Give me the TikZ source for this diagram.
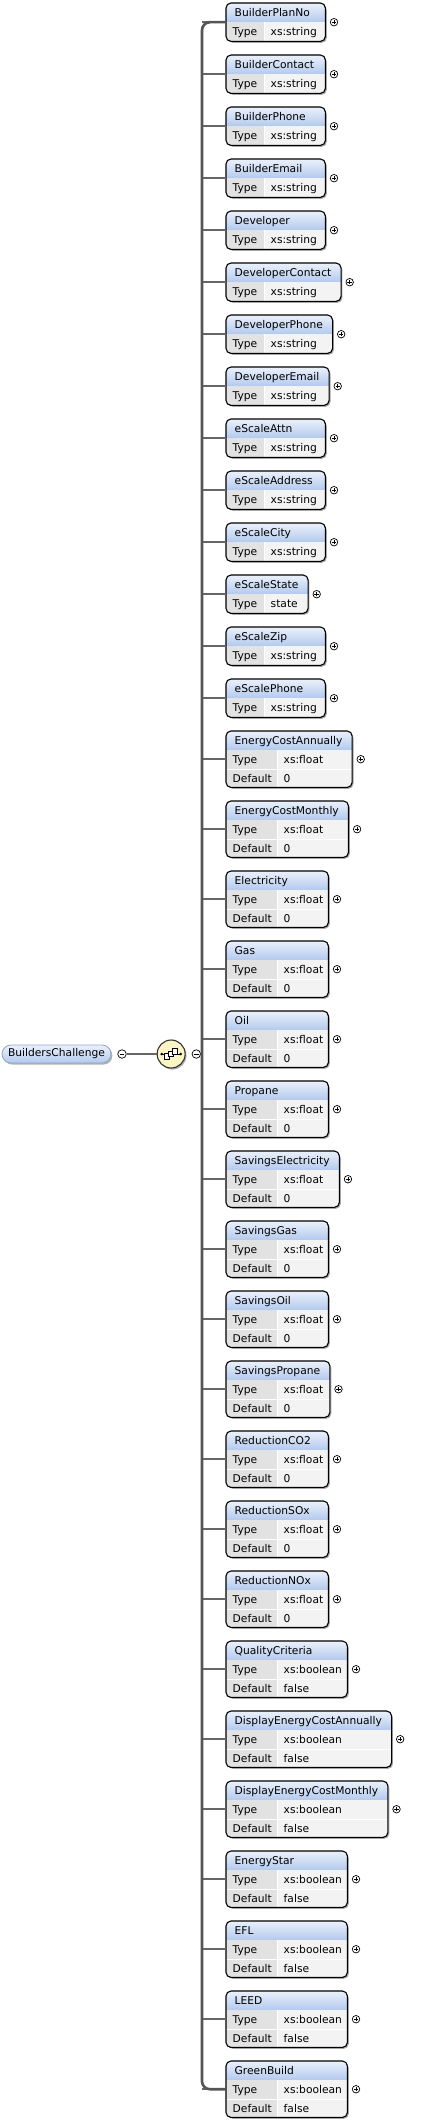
\documentclass[tikz,border=0pt]{standalone}
\usepackage{fontspec}
\setmainfont{DejaVu Sans}
\usepackage{xcolor}
\usetikzlibrary{positioning, shadows}

\definecolor{hdtop}{HTML}{EBF1FB}
\definecolor{hdbot}{HTML}{B3CAEE}
\definecolor{labcell}{HTML}{E2E2E2}
\definecolor{valcell}{HTML}{F3F3F3}
\definecolor{busgray}{HTML}{555555}
\definecolor{seqfill}{HTML}{FBF5C3}
\definecolor{rootline}{HTML}{8EA6C8}

\begin{document}
\begin{tikzpicture}[x=1pt, y=-1pt,
        font=\fontsize{10.7}{12}\selectfont,
        elframe/.style={rectangle, rounded corners=5pt, anchor=north west, inner xsep=9pt, fill=white, drop shadow={shadow xshift=1.6pt, shadow yshift=-1.6pt, opacity=.35, fill=black}},
        boxline/.style={draw=black, line width=1.1pt, rounded corners=5pt},
        headtext/.style={anchor=base west, inner sep=0pt, text=black},
        rowtext/.style={anchor=base west, inner sep=0pt, text=black},
        sepline/.style={draw=white, line width=1pt},
        plusc/.style={circle, draw=black, fill=white, line width=.7pt, minimum size=7.5pt, inner sep=0pt,
            path picture={\draw[line width=.6pt] ([xshift=-2.2pt]path picture bounding box.center) -- ([xshift=2.2pt]path picture bounding box.center)
                ([yshift=-2.2pt]path picture bounding box.center) -- ([yshift=2.2pt]path picture bounding box.center);}},
        minusc/.style={circle, draw=black, fill=white, line width=.7pt, minimum size=8.5pt, inner sep=0pt,
            path picture={\draw[line width=.6pt] ([xshift=-2.4pt]path picture bounding box.center) -- ([xshift=2.4pt]path picture bounding box.center);}},
        rootnode/.style={rectangle, rounded corners=9pt, minimum width=109pt, minimum height=18pt, inner sep=0pt, top color=hdtop, bottom color=hdbot, draw=rootline, line width=.8pt, drop shadow={shadow xshift=1.4pt, shadow yshift=-1.6pt, opacity=.3, fill=black}},
        seqnode/.style={circle, minimum size=28pt, inner sep=0pt, fill=seqfill, draw=black!80, line width=1.1pt, drop shadow={shadow xshift=1.4pt, shadow yshift=-1.6pt, opacity=.3, fill=black}},
        bus/.style={draw=busgray, line width=2.6pt},
        branch/.style={draw=busgray!90, line width=1.7pt}
    ]
        \useasboundingbox (0,0) rectangle (423,2122);

        % string elements (two rows)
        \foreach \nm/\ty/\mw [count=\k from 0] in {BuilderPlanNo/xs:string/99, BuilderContact/xs:string/99, BuilderPhone/xs:string/99, BuilderEmail/xs:string/99, Developer/xs:string/99, DeveloperContact/xs:string/99, DeveloperPhone/xs:string/99, DeveloperEmail/xs:string/99, eScaleAttn/xs:string/99, eScaleAddress/xs:string/99, eScaleCity/xs:string/99, eScaleState/state/77, eScaleZip/xs:string/99, eScalePhone/xs:string/99} {
            \node[elframe, minimum width=\mw pt, minimum height=38pt] (\nm) at (226,{3+52*\k}) {\phantom{\nm}};
            \begin{scope}
                \clip[rounded corners=5pt] (\nm.north west) rectangle (\nm.south east);
                \shade[top color=hdtop, bottom color=hdbot] (\nm.north west) rectangle ([yshift=-19pt]\nm.north east);
                \fill[labcell] ([yshift=-19pt]\nm.north west) rectangle ([xshift=38pt]\nm.south west);
                \fill[valcell] ([shift={(38pt,-19pt)}]\nm.north west) rectangle (\nm.south east);
                \draw[sepline] ([shift={(38pt,-19pt)}]\nm.north west) -- ([xshift=38pt]\nm.south west);
            \end{scope}
            \draw[boxline] (\nm.north west) rectangle (\nm.south east);
            \node[headtext] (\nm-h) at ([shift={(8.5pt,-13.8pt)}]\nm.north west) {\nm};
            \node[rowtext] (\nm-t) at ([shift={(6.5pt,-32.8pt)}]\nm.north west) {Type};
            \node[rowtext] (\nm-v) at ([shift={(44.5pt,-32.8pt)}]\nm.north west) {\ty};
            \node[plusc, right=4.5pt of \nm] (\nm-p) {};
            \draw[branch] (\nm.west) -- (\nm.west -| 202,0);
        }

        % elements with a default (three rows)
        \foreach \nm/\ty/\df/\mw [count=\k from 0] in {EnergyCostAnnually/xs:float/0/102, EnergyCostMonthly/xs:float/0/102, Electricity/xs:float/0/102, Gas/xs:float/0/102, Oil/xs:float/0/102, Propane/xs:float/0/102, SavingsElectricity/xs:float/0/102, SavingsGas/xs:float/0/102, SavingsOil/xs:float/0/102, SavingsPropane/xs:float/0/102, ReductionCO2/xs:float/0/102, ReductionSOx/xs:float/0/102, ReductionNOx/xs:float/0/102, QualityCriteria/xs:boolean/false/121, DisplayEnergyCostAnnually/xs:boolean/false/121, DisplayEnergyCostMonthly/xs:boolean/false/121, EnergyStar/xs:boolean/false/121, EFL/xs:boolean/false/121, LEED/xs:boolean/false/121, GreenBuild/xs:boolean/false/121} {
            \node[elframe, minimum width=\mw pt, minimum height=56pt] (\nm) at (226,{731+70*\k}) {\phantom{\nm}};
            \begin{scope}
                \clip[rounded corners=5pt] (\nm.north west) rectangle (\nm.south east);
                \shade[top color=hdtop, bottom color=hdbot] (\nm.north west) rectangle ([yshift=-19pt]\nm.north east);
                \fill[labcell] ([yshift=-19pt]\nm.north west) rectangle ([xshift=51pt]\nm.south west);
                \fill[valcell] ([shift={(51pt,-19pt)}]\nm.north west) rectangle (\nm.south east);
                \draw[sepline] ([shift={(51pt,-19pt)}]\nm.north west) -- ([xshift=51pt]\nm.south west);
                \draw[sepline] ([yshift=-38pt]\nm.north west) -- ([yshift=-38pt]\nm.north east);
            \end{scope}
            \draw[boxline] (\nm.north west) rectangle (\nm.south east);
            \node[headtext] (\nm-h) at ([shift={(8.5pt,-13.8pt)}]\nm.north west) {\nm};
            \node[rowtext] (\nm-t) at ([shift={(6.5pt,-32.8pt)}]\nm.north west) {Type};
            \node[rowtext] (\nm-v) at ([shift={(57.5pt,-32.8pt)}]\nm.north west) {\ty};
            \node[rowtext] (\nm-d) at ([shift={(6.5pt,-51.3pt)}]\nm.north west) {Default};
            \node[rowtext] (\nm-dv) at ([shift={(57.5pt,-51.3pt)}]\nm.north west) {\df};
            \node[plusc, right=4.5pt of \nm] (\nm-p) {};
            \draw[branch] (\nm.west) -- (\nm.west -| 202,0);
        }

        % root and sequence compositor
        \node[rootnode] (root) at (56.5,1054) {BuildersChallenge};
        \node[minusc, right=6pt of root] (root-m) {};
        \node[seqnode, right=30pt of root-m] (seq) {};
        \node[minusc, right=6pt of seq] (seq-m) {};
        \coordinate (busmid) at (202,1054);

        \draw[branch] (root-m) -- (seq);
        \draw[branch] (seq-m) -- (busmid);
        \draw[bus, rounded corners=8pt] (BuilderPlanNo.west) -| (busmid) |- (GreenBuild.west);

        % sequence icon
        \draw[line width=.8pt] ([xshift=-9.5pt]seq.center) -- ([xshift=9.5pt]seq.center);
        \fill ([xshift=-9.5pt]seq.center) circle (1.4pt) ([xshift=9.5pt]seq.center) circle (1.4pt);
        \filldraw[fill=white, line width=.7pt] ([shift={(-7pt,-5pt)}]seq.center) rectangle ([shift={(-1.5pt,.5pt)}]seq.center);
        \filldraw[fill=white, line width=.7pt] ([shift={(-3pt,-2.5pt)}]seq.center) rectangle ([shift={(2.5pt,3pt)}]seq.center);
        \filldraw[fill=white, line width=.7pt] ([shift={(1pt,0pt)}]seq.center) rectangle ([shift={(6.5pt,5.5pt)}]seq.center);
    \end{tikzpicture}
\end{document}
